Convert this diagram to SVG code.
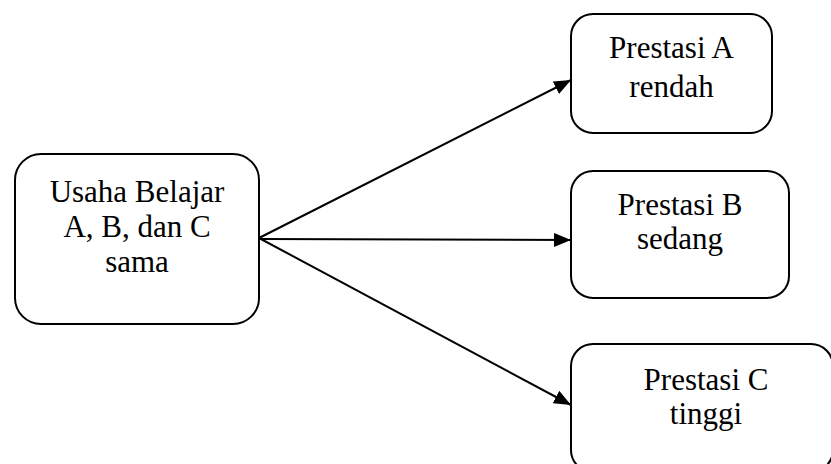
<svg xmlns="http://www.w3.org/2000/svg" width="831" height="464" viewBox="0 0 831 464">
<style>
.box{fill:#fff;stroke:#000;stroke-width:2}
.t{font-family:"Liberation Serif","Times New Roman",serif;font-size:31px;fill:#000;text-anchor:middle}
.c{stroke:#000;stroke-width:2;fill:none}
</style>
<defs>
<marker id="ah" markerUnits="userSpaceOnUse" markerWidth="18" markerHeight="14" refX="17" refY="7" orient="auto">
<path d="M0,0 L17,7 L0,14 Z" fill="#000"/>
</marker>
</defs>
<rect width="831" height="464" fill="#fff"/>
<g id="connectors">
<line class="c" x1="259" y1="238" x2="571" y2="80" marker-end="url(#ah)"/>
<line class="c" x1="259" y1="239" x2="571" y2="240" marker-end="url(#ah)"/>
<line class="c" x1="259" y1="238" x2="571" y2="405" marker-end="url(#ah)"/>
</g>
<g id="usaha">
<rect class="box" x="15" y="154" width="244" height="170" rx="26"/>
<text class="t" x="137" y="202">Usaha Belajar</text>
<text class="t" x="137" y="237">A, B, dan C</text>
<text class="t" x="137" y="272">sama</text>
</g>
<g id="prestasiA">
<rect class="box" x="571" y="14" width="201" height="119" rx="22"/>
<text class="t" x="671.5" y="58">Prestasi A</text>
<text class="t" x="671.5" y="97">rendah</text>
</g>
<g id="prestasiB">
<rect class="box" x="571" y="171" width="218" height="127" rx="22"/>
<text class="t" x="680" y="215">Prestasi B</text>
<text class="t" x="680" y="249">sedang</text>
</g>
<g id="prestasiC">
<rect class="box" x="571" y="344" width="262" height="128" rx="22"/>
<text class="t" x="706" y="390">Prestasi C</text>
<text class="t" x="706" y="424">tinggi</text>
</g>
</svg>
